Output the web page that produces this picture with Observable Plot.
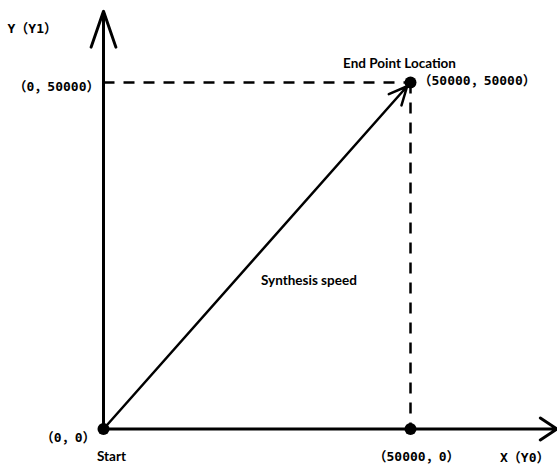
<!DOCTYPE html>
<html>
<head>
<meta charset="utf-8">
<script src="https://cdn.jsdelivr.net/npm/d3@7"></script>
<script src="https://cdn.jsdelivr.net/npm/@observablehq/plot@0.6"></script>
<style>
  html, body { margin: 0; padding: 0; background: #fff; }
  #chart svg { display: block; }
</style>
</head>
<body>
<div id="chart"></div>
<script>
// ---- data ----
const startPoint = {x: 0, y: 0};
const endPoint = {x: 50000, y: 50000};
const xProjection = {x: 50000, y: 0};
const yProjection = {x: 0, y: 50000};
const xAxisEnd = 73860;   // end of the X arrow
const yAxisEnd = 60290;   // end of the Y arrow

const dots = [startPoint, endPoint, xProjection];
const dashedLines = [
  {x1: yProjection.x, y1: yProjection.y, x2: endPoint.x, y2: endPoint.y},
  {x1: endPoint.x, y1: endPoint.y, x2: xProjection.x, y2: xProjection.y}
];
const xAxisLine = [{x1: 0, y1: 0, x2: xAxisEnd, y2: 0}];
const yAxisLine = [{x1: 0, y1: 0, x2: 0, y2: yAxisEnd}];
const speedVector = [{x1: startPoint.x, y1: startPoint.y, x2: endPoint.x, y2: endPoint.y}];

const coordLabels = {
  origin: "（0，0）",
  yPoint: "（0，50000）",
  xPoint: "（50000，0）",
  end: "（50000，50000）"
};
const axisTitles = {x: "X（Y0）", y: "Y（Y1）"};
const noteLabels = {start: "Start", end: "End Point Location", speed: "Synthesis speed"};

// ---- chart ----
const monoFont = "'DejaVu Sans Mono', 'Noto Sans CJK SC', monospace";
const sansFont = "Lato, 'Open Sans', sans-serif";
const mono = {fontFamily: monoFont, fontSize: 13, fontWeight: "bold", fill: "#000"};
const sans = {fontFamily: sansFont, fontSize: 13.5, fontWeight: "bold", fill: "#000"};

const chart = Plot.plot({
  width: 557,
  height: 465,
  margin: 0,
  style: {background: "#fff", overflow: "visible"},
  x: {domain: [0, 50000], range: [103, 410], axis: null},
  y: {domain: [0, 50000], range: [428.5, 82], axis: null},
  marks: [
    Plot.link(dashedLines, {x1: "x1", y1: "y1", x2: "x2", y2: "y2", stroke: "#000", strokeWidth: 2.5, strokeDasharray: "11 9"}),
    Plot.arrow(xAxisLine, {x1: "x1", y1: "y1", x2: "x2", y2: "y2", stroke: "#000", strokeWidth: 3, headLength: 10, headAngle: 67}),
    Plot.arrow(yAxisLine, {x1: "x1", y1: "y1", x2: "x2", y2: "y2", stroke: "#000", strokeWidth: 3, headLength: 19, headAngle: 38}),
    Plot.arrow(speedVector, {x1: "x1", y1: "y1", x2: "x2", y2: "y2", stroke: "#000", strokeWidth: 2.5, headLength: 12, headAngle: 50, insetEnd: 5}),
    Plot.dot(dots, {x: "x", y: "y", r: 6, fill: "#000", stroke: "none"}),
    Plot.text([startPoint], {x: "x", y: "y", text: () => coordLabels.origin, textAnchor: "end", dx: -8, dy: 9, ...mono}),
    Plot.text([yProjection], {x: "x", y: "y", text: () => coordLabels.yPoint, textAnchor: "end", dx: -4, dy: 4, ...mono}),
    Plot.text([xProjection], {x: "x", y: "y", text: () => coordLabels.xPoint, textAnchor: "middle", dx: 6, dy: 28, ...mono}),
    Plot.text([endPoint], {x: "x", y: "y", text: () => coordLabels.end, textAnchor: "start", dx: 8, dy: -2, ...mono}),
    Plot.text([{x: xAxisEnd, y: 0}], {x: "x", y: "y", text: () => axisTitles.x, textAnchor: "start", dx: -57, dy: 29, ...mono}),
    Plot.text([{x: 0, y: yAxisEnd}], {x: "x", y: "y", text: () => axisTitles.y, textAnchor: "start", dx: -96, dy: 18, ...mono}),
    Plot.text([startPoint], {x: "x", y: "y", text: () => noteLabels.start, textAnchor: "middle", dx: 8, dy: 28, ...sans}),
    Plot.text([endPoint], {x: "x", y: "y", text: () => noteLabels.end, textAnchor: "middle", dx: -11, dy: -19, ...sans}),
    Plot.text([{x: endPoint.x / 2, y: endPoint.y / 2}], {x: "x", y: "y", text: () => noteLabels.speed, textAnchor: "start", dx: 4, dy: 25, ...sans})
  ]
});
document.getElementById("chart").appendChild(chart);
</script>
</body>
</html>
